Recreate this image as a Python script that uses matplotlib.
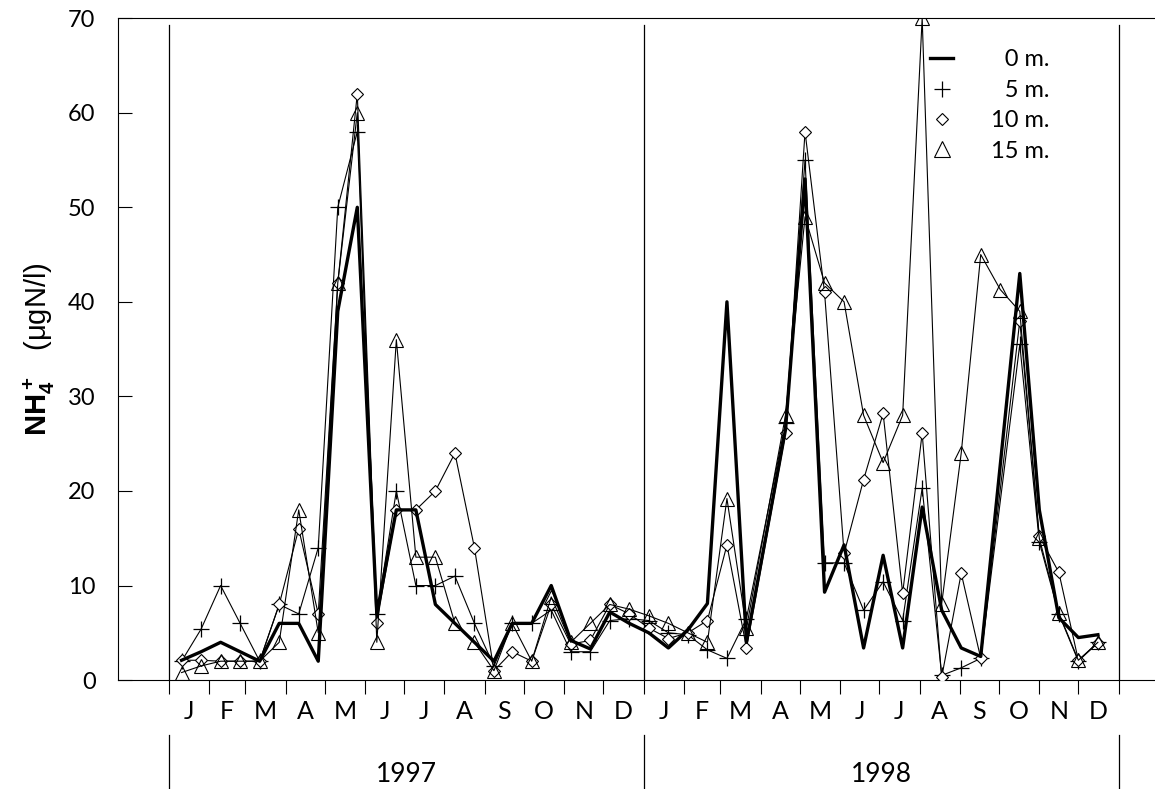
import matplotlib
matplotlib.use("Agg")
import matplotlib.pyplot as plt
import matplotlib.transforms as mtransforms
from matplotlib.lines import Line2D
import numpy as np
import pandas as pd

plt.rcParams["font.family"] = ["Lato", "DejaVu Sans"]
plt.rcParams["mathtext.fontset"] = "custom"
plt.rcParams["mathtext.rm"] = "Liberation Sans"
plt.rcParams["mathtext.bf"] = "Liberation Sans:bold"

# ── Data ──────────────────────────────────────────────────────────
sample_dates = [
    "1997-01-11", "1997-01-26", "1997-02-10", "1997-02-25", "1997-03-12", "1997-03-27",
    "1997-04-11", "1997-04-26", "1997-05-11", "1997-05-26", "1997-06-10", "1997-06-25",
    "1997-07-10", "1997-07-25", "1997-08-09", "1997-08-24", "1997-09-08", "1997-09-22",
    "1997-10-07", "1997-10-22", "1997-11-06", "1997-11-21", "1997-12-06", "1997-12-21",
    "1998-01-05", "1998-01-20", "1998-02-04", "1998-02-19", "1998-03-06", "1998-03-21",
    "1998-04-20", "1998-05-05", "1998-05-20", "1998-06-04", "1998-06-19", "1998-07-04",
    "1998-07-19", "1998-08-03", "1998-08-18", "1998-09-02", "1998-09-17", "1998-10-02",
    "1998-10-17", "1998-11-01", "1998-11-16", "1998-12-01", "1998-12-16",
]

depth_0m = [2.1, 3, 4, 3, 2, 6, 6, 2, 39, 50, 7, 18,
            18, 8, 6, 4, 2, 6, 6, 10, 4.2, 3.3, 7.2, 6,
            5, 3.4, 5.3, 8.1, 40, 4, 26.5, 53, 9.3, 14.3, 3.4, 13.2,
            3.4, 18.3, 7.4, 3.4, 2.5, None, 43, 18, 6.6, 4.5, 4.8]
depth_5m = [2, 5.4, 10, 6, 2, 8, 7, 14, 50, 58, 7, 20,
            10, 10, 11, 6, 1.5, 6, 6, 7.4, 3, 3, 6.3, 6.5,
            6.3, 5, 4.8, 3.2, 2.3, 6.5, 27.2, 55, 12.4, 12.4, 7.4, 10.4,
            6.3, 20.3, 0.5, 1.3, 2.3, None, 35.5, 14.6, 7, 2, 4]
depth_10m = [2.1, 2.1, 2, 2, 2, 8, 16, 7, 42, 62, 6, 18,
             18, 20, 24, 14, 1, 3, 2, 8, 3.8, 4.2, 8, 7,
             5.5, 4.4, 5, 6.3, 14.3, 3.4, 26.1, 58, 41, 13.4, 21.2, 28.2,
             9.2, 26.1, 0.3, 11.3, 2.3, None, 38, 15.2, 11.4, 2.1, 3.9]
depth_15m = [0.8, 1.5, 2, 2, 2, 4, 18, 5, 42, 60, 4, 36,
             13, 13, 6, 4, 1, 6, 2, 8.8, 4, 6, 8, 7.5,
             6.8, 6, 5, 4, 19.2, 5.5, 28, 49, 42, 40, 28, 23,
             28, 70, 8.1, 24, 45, 41.3, 39, 15, 7.1, 2.1, 4]

month_labels = ["J", "F", "M", "A", "M", "J", "J", "A", "S", "O", "N", "D"] * 2
month_starts = ["1997-%02d-01" % m for m in range(1, 13)] + \
               ["1998-%02d-01" % m for m in range(1, 13)] + ["1999-01-01"]
year_labels = ["1997", "1998"]
year_bounds = ["1997-01-01", "1998-01-01", "1999-01-01"]
legend_labels = ["\u20070 m.", "\u20075 m.", "10 m.", "15 m."]

# ── Figure ────────────────────────────────────────────────────────
fig = plt.figure(figsize=(11.55, 7.89), dpi=100)
ax = fig.add_axes([0.102, 0.138, 0.897, 0.839])

dates = pd.to_datetime(sample_dates)


def plot_series(values, **kw):
    v = np.array([np.nan if x is None else x for x in values], dtype=float)
    ok = ~np.isnan(v)
    ax.plot(dates[ok], v[ok], color="black", **kw)


plot_series(depth_5m, lw=0.8, marker="+", ms=11, mew=0.9, zorder=3)
plot_series(depth_10m, lw=0.8, marker="D", ms=6.5, mfc="white", mew=0.8, zorder=3)
plot_series(depth_15m, lw=0.8, marker="^", ms=9.5, mfc="none", mew=0.8, zorder=3)
plot_series(depth_0m, lw=2.4, zorder=4)

# axes limits & ticks
ax.set_ylim(0, 70)
ax.set_xlim(pd.Timestamp("1996-11-23"), pd.Timestamp("1999-01-28"))
ax.set_yticks(range(0, 71, 10))
ax.tick_params(axis="y", direction="in", length=10, width=0.8, pad=16, labelsize=17)

starts = pd.to_datetime(month_starts)
mids = starts[:-1] + (starts[1:] - starts[:-1]) / 2
ax.set_xticks(starts)
ax.set_xticklabels([])
ax.set_xticks(mids, minor=True)
ax.set_xticklabels(month_labels, minor=True, fontsize=18)
ax.tick_params(axis="x", which="major", direction="out", length=10, width=0.8)
ax.tick_params(axis="x", which="minor", length=0, pad=14)

ax.spines["right"].set_visible(False)
for s in ["left", "top", "bottom"]:
    ax.spines[s].set_linewidth(0.8)

# year separators inside the plot and in the band below
trans = mtransforms.blended_transform_factory(ax.transData, ax.transAxes)
for b in pd.to_datetime(year_bounds):
    ax.plot([b, b], [0, 0.99], color="black", lw=0.9, transform=trans, zorder=1)
    ax.plot([b, b], [-0.083, -0.17], color="black", lw=0.9, transform=trans, clip_on=False)

yb = pd.to_datetime(year_bounds)
for i, lab in enumerate(year_labels):
    mid = yb[i] + (yb[i + 1] - yb[i]) / 2
    ax.text(mid, -0.142, lab, transform=trans, ha="center", va="center", fontsize=19)

ax.set_ylabel(r"$\mathbf{NH_4^+}$   $\mathrm{(\mu gN/l)}$", fontsize=21, labelpad=8)

# legend
handles = [
    Line2D([], [], color="black", lw=2.4),
    Line2D([], [], color="black", ls="none", marker="+", ms=11, mew=0.9),
    Line2D([], [], color="black", ls="none", marker="D", ms=6.5, mfc="white", mew=0.8),
    Line2D([], [], color="black", ls="none", marker="^", ms=11, mfc="none", mew=0.8),
]
ax.legend(handles, legend_labels, loc="upper right",
          bbox_to_anchor=(0.92, 0.985), frameon=False, handlelength=1.0,
          handletextpad=1.6, labelspacing=0.4, prop={"size": 17})

fig.savefig("out.png", dpi=100, facecolor="white")
